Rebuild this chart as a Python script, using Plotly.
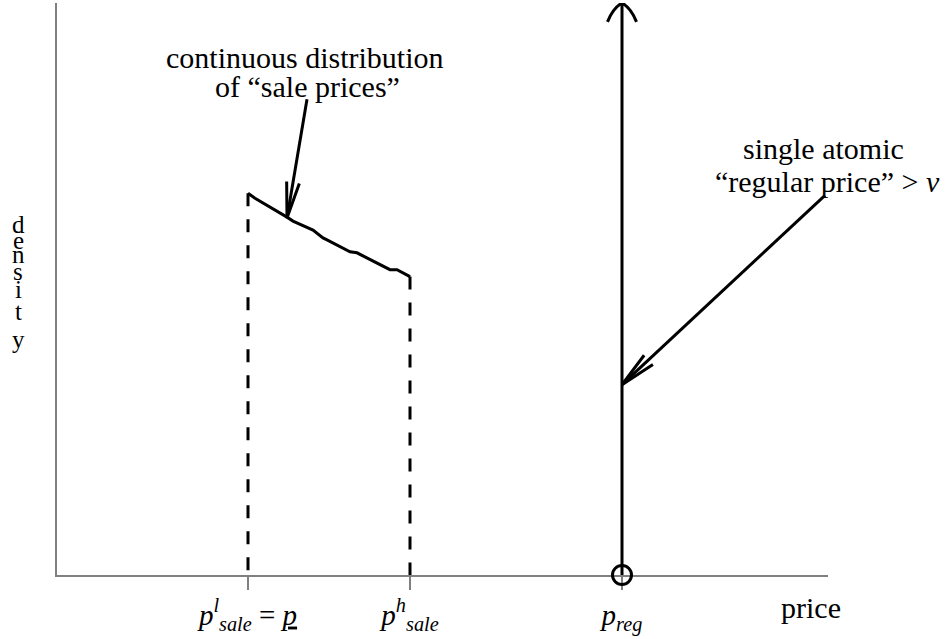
import numpy as np
import plotly.graph_objects as go

# positions on the price axis (1 unit = 100 px)
p_sale_low = 1.91
p_sale_high = 3.53
p_reg = 5.65
x_axis_end = 7.71
y_axis_end = 5.77

# hand-drawn density of the sale prices
sale_x = [1.91, 1.98, 2.30, 2.36, 2.56, 2.66, 2.70, 2.93, 3.00, 3.23, 3.33, 3.40, 3.53]
sale_y = [3.85, 3.80, 3.61, 3.57, 3.48, 3.40, 3.38, 3.26, 3.25, 3.13, 3.08, 3.08, 3.01]

tick_vals = [p_sale_low, p_sale_high, p_reg]
tick_text = [
    "<i>p</i><sup><i>l</i></sup><sub><i>sale</i></sub> = <u><i>p</i></u>",
    "<i>p</i><sup><i>h</i></sup><sub><i>sale</i></sub>",
    "<i>p</i><sub><i>reg</i></sub>",
]

# text lines: (text, x, y) in axis units
text_lines = [
    ("continuous distribution", 2.48, 5.22),
    ("of \u201csale prices\u201d", 2.50, 4.93),
    ("single atomic", 7.66, 4.30),
    ("\u201cregular price\u201d > <i>v</i>", 7.70, 3.97),
    ("price", 7.54, -0.33),
]

# vertical axis label, stacked letters
density_letters = list("density")
density_x = -0.39
density_y = [3.54, 3.37, 3.23, 3.06, 2.88, 2.66, 2.38]

# annotation arrows: (tail, tip)
arrows = [
    ((2.50, 4.80), (2.30, 3.60)),
    ((7.68, 3.83), (p_reg, 1.92)),
]

FONT = "Liberation Serif"
AXIS_GRAY = "#808080"


def arrow_head(tail, tip, length=0.37, half_angle=10):
    d = np.array(tail) - np.array(tip)
    d = d / np.linalg.norm(d)
    pts = []
    for a in (half_angle, -half_angle):
        t = np.radians(a)
        r = np.array([d[0] * np.cos(t) - d[1] * np.sin(t),
                      d[0] * np.sin(t) + d[1] * np.cos(t)])
        pts.append(np.array(tip) + length * r)
    return [pts[0][0], tip[0], pts[1][0]], [pts[0][1], tip[1], pts[1][1]]


def label(txt, x, y, size):
    # paper coords so labels outside the axis ranges still show
    fig.add_annotation(x=x / x_axis_end, y=y / y_axis_end, xref="paper", yref="paper",
                       xanchor="center", yanchor="middle",
                       text=txt, showarrow=False,
                       font=dict(family=FONT, size=size, color="black"))


fig = go.Figure()

# dashed supports of the sale price distribution
for px_, top in [(p_sale_low, sale_y[0]), (p_sale_high, sale_y[-1])]:
    fig.add_trace(go.Scatter(x=[px_, px_], y=[top, 0], mode="lines",
                             line=dict(color="black", width=3, dash="13px,13px")))

fig.add_trace(go.Scatter(x=sale_x, y=sale_y, mode="lines",
                         line=dict(color="black", width=3)))

# atom at the regular price
fig.add_trace(go.Scatter(x=[p_reg, p_reg], y=[0, y_axis_end], mode="lines",
                         line=dict(color="black", width=3)))
fig.add_trace(go.Scatter(x=[p_reg], y=[0], mode="markers", cliponaxis=False,
                         marker=dict(symbol="circle-open", size=19, color="black",
                                     line=dict(color="black", width=3))))

# curved arrow tip on top of the atom
hw, hl = 0.145, 0.19
top = y_axis_end
fig.add_shape(type="path", xref="x", yref="y", line=dict(color="black", width=3),
              path=f"M {p_reg - hw},{top - hl} Q {p_reg - 0.09},{top - 0.05} {p_reg},{top} "
                   f"Q {p_reg + 0.09},{top - 0.05} {p_reg + hw},{top - hl}")

for tail, tip in arrows:
    fig.add_trace(go.Scatter(x=[tail[0], tip[0]], y=[tail[1], tip[1]], mode="lines",
                             line=dict(color="black", width=3)))
    hx, hy = arrow_head(tail, tip)
    fig.add_trace(go.Scatter(x=hx, y=hy, mode="lines",
                             line=dict(color="black", width=3)))

for txt, x, y in text_lines:
    label(txt, x, y, 30)

for ch, y in zip(density_letters, density_y):
    label(ch, density_x, y, 25)

fig.update_xaxes(range=[0, x_axis_end], showline=True, linecolor=AXIS_GRAY, linewidth=1.5,
                 showgrid=False, zeroline=False, ticks="outside", ticklen=13, tickwidth=1.5,
                 tickcolor=AXIS_GRAY, tickvals=tick_vals, ticktext=tick_text,
                 tickfont=dict(family=FONT, size=29, color="black"), layer="below traces")
fig.update_yaxes(range=[0, y_axis_end], showline=True, linecolor=AXIS_GRAY, linewidth=1.5,
                 showgrid=False, zeroline=False, showticklabels=False, ticks="",
                 layer="below traces")

fig.update_layout(width=951, height=639, margin=dict(l=57, r=123, t=3, b=59),
                  plot_bgcolor="white", paper_bgcolor="white", showlegend=False)

fig.write_html("out.html", config={"displayModeBar": False},
               post_script="document.body.style.margin='0';")
